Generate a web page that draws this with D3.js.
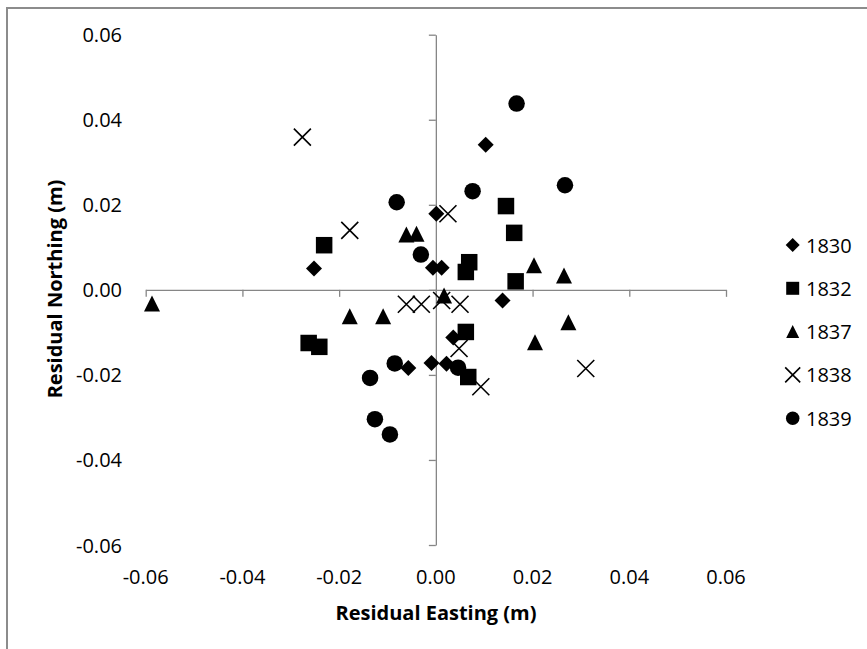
<!DOCTYPE html>
<html>
<head>
<meta charset="utf-8">
<script src="https://cdnjs.cloudflare.com/ajax/libs/d3/7.8.5/d3.min.js"></script>
<style>
  html, body { margin: 0; padding: 0; background: #fff; }
  svg { display: block; }
</style>
</head>
<body>
<svg id="chart" width="867" height="649"></svg>
<script>
// ---- Data (residual easting, northing in metres) ----
const seriesNames = ["1830", "1832", "1837", "1838", "1839"];
const markerTypes = ["diamond", "square", "triangle", "cross", "circle"];

const e1830 = [0.0103, -0.0252, 0.0001, -0.0006, 0.0012, 0.0138, 0.0036, -0.0009, 0.0022, -0.0057];
const n1830 = [0.0341, 0.0050, 0.0179, 0.0052, 0.0052, -0.0025, -0.0112, -0.0172, -0.0174, -0.0184];

const e1832 = [-0.0231, 0.0145, 0.0162, 0.0069, 0.0062, 0.0165, 0.0062, 0.0067, -0.0263, -0.0241];
const n1832 = [0.0105, 0.0197, 0.0134, 0.0065, 0.0042, 0.0020, -0.0099, -0.0205, -0.0125, -0.0134];

const e1837 = [-0.0587, -0.0178, -0.0109, -0.0061, -0.0040, 0.0017, 0.0203, 0.0265, 0.0274, 0.0205];
const n1837 = [-0.0032, -0.0062, -0.0062, 0.0130, 0.0132, -0.0013, 0.0058, 0.0034, -0.0076, -0.0123];

const e1838 = [-0.0276, -0.0178, 0.0025, -0.0061, -0.0030, 0.0012, 0.0050, 0.0048, 0.0093, 0.0310];
const n1838 = [0.0359, 0.0140, 0.0179, -0.0034, -0.0034, -0.0025, -0.0034, -0.0138, -0.0228, -0.0185];

const e1839 = [0.0167, 0.0267, 0.0076, -0.0081, -0.0031, -0.0085, -0.0136, -0.0126, -0.0095, 0.0046];
const n1839 = [0.0438, 0.0246, 0.0232, 0.0206, 0.0083, -0.0173, -0.0207, -0.0304, -0.0340, -0.0183];

const eastings = [e1830, e1832, e1837, e1838, e1839];
const northings = [n1830, n1832, n1837, n1838, n1839];

const tickValues = [-0.06, -0.04, -0.02, 0.00, 0.02, 0.04, 0.06];
const tickLabels = ["-0.06", "-0.04", "-0.02", "0.00", "0.02", "0.04", "0.06"];
const xTitle = "Residual Easting (m)";
const yTitle = "Residual Northing (m)";

// ---- Layout ----
const svg = d3.select("#chart");
const FONT = "'Open Sans', 'Liberation Sans', sans-serif";
const AXIS = "#868686";
const LABEL_SIZE = 20;

const x = d3.scaleLinear().domain([-0.06, 0.06]).range([145.7, 726]);
const y = d3.scaleLinear().domain([-0.06, 0.06]).range([545, 34.7]);

// chart border
svg.append("rect")
  .attr("x", 7).attr("y", 8).attr("width", 900).attr("height", 700)
  .attr("fill", "none").attr("stroke", "#8c8c8c").attr("stroke-width", 2);

// x axis (crosses at y=0)
const xAxis = svg.append("g")
  .attr("transform", `translate(0,${y(0)})`)
  .call(d3.axisBottom(x).tickValues(tickValues).tickFormat("").tickSize(7).tickSizeOuter(0));
// y axis (crosses at x=0)
const yAxis = svg.append("g")
  .attr("transform", `translate(${x(0)},0)`)
  .call(d3.axisLeft(y).tickValues(tickValues).tickFormat("").tickSize(7).tickSizeOuter(0));
[xAxis, yAxis].forEach(g => {
  g.selectAll("path.domain").attr("stroke", AXIS).attr("stroke-width", 1.3);
  g.selectAll(".tick line").attr("stroke", AXIS).attr("stroke-width", 1.3);
});

// tick labels (low position)
svg.append("g").selectAll("text").data(tickValues).join("text")
  .attr("x", d => x(d)).attr("y", 576)
  .attr("text-anchor", "middle").attr("dominant-baseline", "central")
  .attr("font-family", FONT).attr("font-size", LABEL_SIZE).attr("fill", "#000")
  .text((d, i) => tickLabels[i]);
svg.append("g").selectAll("text").data(tickValues).join("text")
  .attr("x", 122).attr("y", d => y(d))
  .attr("text-anchor", "end").attr("dominant-baseline", "central")
  .attr("font-family", FONT).attr("font-size", LABEL_SIZE).attr("fill", "#000")
  .text((d, i) => tickLabels[i]);

// axis titles
svg.append("text")
  .attr("x", 436).attr("y", 612)
  .attr("text-anchor", "middle").attr("dominant-baseline", "central")
  .attr("font-family", FONT).attr("font-size", 20).attr("font-weight", "bold")
  .text(xTitle);
svg.append("text")
  .attr("transform", "translate(54,289) rotate(-90)")
  .attr("text-anchor", "middle").attr("dominant-baseline", "central")
  .attr("font-family", FONT).attr("font-size", 20).attr("font-weight", "bold")
  .text(yTitle);

// ---- marker shapes ----
function markerPath(type, s) {
  const h = s / 2;
  switch (type) {
    case "diamond": return `M0,${-h}L${h},0L0,${h}L${-h},0Z`;
    case "square": return `M${-h},${-h}H${h}V${h}H${-h}Z`;
    case "triangle": return `M0,${-h}L${h},${h}L${-h},${h}Z`;
    case "cross": return `M${-h},${-h}L${h},${h}M${h},${-h}L${-h},${h}`;
    case "circle": { const p = d3.path(); p.arc(0, 0, h, 0, 2 * Math.PI); p.closePath(); return p.toString(); }
  }
}
const plotSizes = { diamond: 16, square: 16.5, triangle: 16, cross: 17, circle: 16.5 };
const legendSizes = { diamond: 14, square: 13, triangle: 13, cross: 15, circle: 13.5 };

function styleMarker(sel, type) {
  if (type === "cross") sel.attr("fill", "none").attr("stroke", "#000").attr("stroke-width", 1.6);
  else sel.attr("fill", "#000").attr("stroke", "none");
}

// draw series
seriesNames.forEach((name, i) => {
  const type = markerTypes[i];
  const pts = eastings[i].map((e, k) => ({ e, n: northings[i][k] }));
  const g = svg.append("g").attr("class", "series-" + name);
  g.selectAll("path").data(pts).join("path")
    .attr("d", markerPath(type, plotSizes[type]))
    .attr("transform", d => `translate(${x(d.e)},${y(d.n)})`)
    .call(sel => styleMarker(sel, type));
});

// legend
const legend = svg.append("g").attr("class", "legend");
seriesNames.forEach((name, i) => {
  const type = markerTypes[i];
  const cy = 245 + i * 43.3;
  legend.append("path")
    .attr("d", markerPath(type, legendSizes[type]))
    .attr("transform", `translate(792.7,${cy})`)
    .call(sel => styleMarker(sel, type));
  legend.append("text")
    .attr("x", 806).attr("y", cy)
    .attr("dominant-baseline", "central")
    .attr("font-family", FONT).attr("font-size", LABEL_SIZE)
    .text(name);
});
</script>
</body>
</html>
